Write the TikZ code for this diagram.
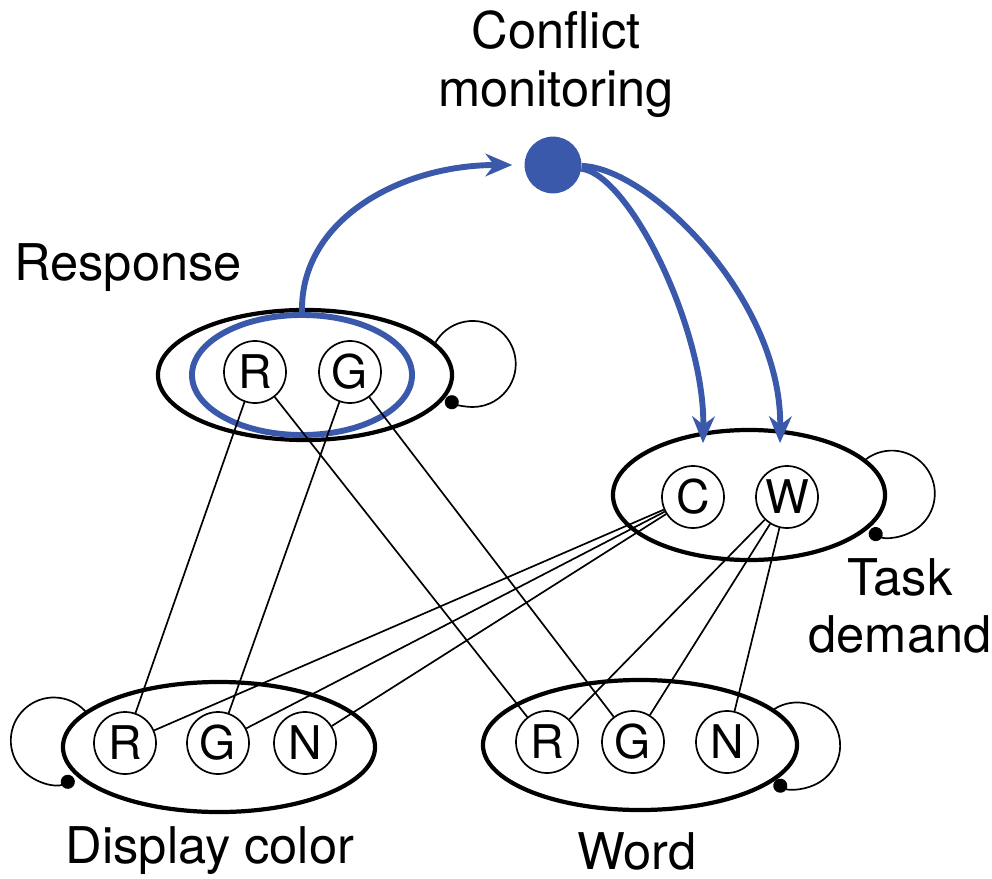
\documentclass[tikz,border=0pt]{standalone}
\usepackage{fontspec}
\setmainfont{TeX Gyre Heros}
\usetikzlibrary{arrows.meta,shapes.geometric}
\definecolor{cmblue}{RGB}{59,89,171}

\begin{document}
\begin{tikzpicture}[x=0.025cm, y=-0.025cm,
		layer/.style={draw, ellipse, line width=3pt, inner sep=0pt, minimum height=3.25cm},
		unit/.style={draw, circle, line width=1.2pt, minimum size=1.55cm, inner sep=0pt, font=\fontsize{33}{33}\selectfont},
		link/.style={line width=1.2pt},
		selfloop/.style={line width=1.2pt, -{Circle[length=10pt]}},
		feedback/.style={color=cmblue, line width=4.2pt, -{Stealth[length=19pt, width=16pt, inset=6pt]}},
		lbl/.style={font=\fontsize{36}{41}\selectfont, align=center, inner sep=0pt}]
			%%%%% START %%%%%
			\useasboundingbox (0, 0) rectangle (992, 879);
			
			\node[layer, minimum width=7.35cm] (resp) at (305, 375) {};
			\node[layer, draw=cmblue, line width=4.2pt, minimum width=5.5cm, minimum height=3cm] (respsel) at (302, 375) {};
			\node[layer, minimum width=6.8cm] (task) at (749, 495) {};
			\node[layer, minimum width=7.8cm] (disp) at (219, 747) {};
			\node[layer, minimum width=7.85cm] (word) at (640, 745) {};
			
			\node[unit] (rR) at (255, 372) {R};
			\node[unit] (rG) at (350, 372) {G};
			\node[unit] (tC) at (693, 497) {C};
			\node[unit] (tW) at (787, 497) {W};
			\node[unit] (dR) at (125, 743) {R};
			\node[unit] (dG) at (218, 743) {G};
			\node[unit] (dN) at (305, 743) {N};
			\node[unit] (wR) at (547, 742) {R};
			\node[unit] (wG) at (633, 742) {G};
			\node[unit] (wN) at (727, 742) {N};
			
			\node[circle, fill=cmblue, minimum size=1.42cm, inner sep=0pt] (conf) at (553, 165) {};
			
			\node[lbl] (conftext) at (556, 64) {Conflict\\monitoring};
			\node[lbl] (resptext) at (128, 268) {Response};
			\node[lbl] (tasktext) at (900, 606) {Task\\demand};
			\node[lbl] (disptext) at (210, 851) {Display color};
			\node[lbl] (wordtext) at (637, 851) {Word};
			
			% pathways
			\draw[link] (rR) -- (dR);
			\draw[link] (rR) -- (wR);
			\draw[link] (rG) -- (dG);
			\draw[link] (rG) -- (wG);
			\draw[link] (tC) -- (dR);
			\draw[link] (tC) -- (dG);
			\draw[link] (tC) -- (dN);
			\draw[link] (tW) -- (wR);
			\draw[link] (tW) -- (wG);
			\draw[link] (tW) -- (wN);
			
			% self connections
			\draw[selfloop] (resp.14) arc[start angle=150, end angle=-128, radius=1.075cm];
			\draw[selfloop] (task.17) arc[start angle=127, end angle=-121, radius=1.075cm];
			\draw[selfloop] (disp.165) arc[start angle=43, end angle=298, radius=1.075cm];
			\draw[selfloop] (word.15) arc[start angle=122, end angle=-122, radius=1.075cm];
			
			% conflict loop
			\draw[feedback, shorten >=0.3cm] (respsel.north) .. controls (300, 220) and (400, 165) .. (conf);
			\draw[feedback] (conf) .. controls (630, 175) and (705, 330) .. ([xshift=0.25cm, yshift=0.55cm]tC.north);
			\draw[feedback] (conf) .. controls (650, 168) and (782, 300) .. ([xshift=-0.175cm, yshift=0.55cm]tW.north);
			
			%%%%% END %%%%%
		\end{tikzpicture}
\end{document}
